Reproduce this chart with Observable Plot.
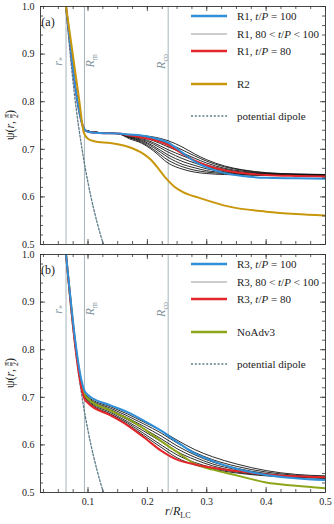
<!DOCTYPE html>
<html><head><meta charset="utf-8">
<script src="https://cdn.jsdelivr.net/npm/d3@7"></script>
<script src="https://cdn.jsdelivr.net/npm/@observablehq/plot@0.6"></script>
<style>
body{margin:0;background:#fff;}
#wrap{position:relative;width:334px;height:524px;overflow:hidden;font-family:"Liberation Serif",serif;color:#222;}
.abs{position:absolute;}
.leg{position:absolute;font-size:11px;white-space:nowrap;line-height:12px;}
.leg svg{position:absolute;left:-47px;top:0;}
.ylab{position:absolute;transform:translate(-50%,-50%) rotate(-90deg);font-size:12px;white-space:nowrap;}
.frac{display:inline-flex;flex-direction:column;vertical-align:middle;font-size:8px;line-height:8px;text-align:center;}
.frac span:first-child{border-bottom:0.6px solid #222;}
</style></head>
<body><div id="wrap"></div>
<script>
// ---------- data ----------
const rStar = 0.063, rM = 0.094, rCo = 0.235;
const yMajor = [0.5, 0.6, 0.7, 0.8, 0.9, 1.0];
const xMajor = [0.1, 0.2, 0.3, 0.4, 0.5];

const rDip = [0.063, 0.07, 0.08, 0.09, 0.1, 0.11, 0.12, 0.13];
const psiDip = [1.0, 0.90, 0.787, 0.70, 0.63, 0.573, 0.525, 0.485];

// panel (a)
const rA = [0.063, 0.094, 0.1, 0.12, 0.15, 0.17, 0.19, 0.21, 0.235, 0.26, 0.28, 0.3, 0.33, 0.36, 0.4, 0.45, 0.5];
const R1_100 = [1.0, 0.742, 0.737, 0.734, 0.733, 0.731, 0.729, 0.724, 0.714, 0.692, 0.674, 0.662, 0.650, 0.644, 0.640, 0.639, 0.638];
const R1_80  = [1.0, 0.742, 0.737, 0.734, 0.733, 0.729, 0.725, 0.720, 0.709, 0.690, 0.676, 0.666, 0.656, 0.650, 0.646, 0.644, 0.643];
const R1_mid = [
  [1.0, 0.743, 0.738, 0.735, 0.733, 0.731, 0.729, 0.726, 0.718, 0.704, 0.690, 0.678, 0.665, 0.657, 0.651, 0.648, 0.647],
  [1.0, 0.743, 0.738, 0.735, 0.733, 0.730, 0.727, 0.722, 0.712, 0.698, 0.686, 0.675, 0.663, 0.656, 0.650, 0.648, 0.647],
  [1.0, 0.743, 0.738, 0.735, 0.733, 0.729, 0.725, 0.718, 0.705, 0.692, 0.681, 0.671, 0.660, 0.654, 0.649, 0.647, 0.646],
  [1.0, 0.743, 0.738, 0.735, 0.733, 0.728, 0.723, 0.714, 0.699, 0.686, 0.676, 0.667, 0.658, 0.652, 0.648, 0.647, 0.646],
  [1.0, 0.743, 0.738, 0.735, 0.733, 0.727, 0.721, 0.711, 0.694, 0.680, 0.671, 0.663, 0.655, 0.651, 0.648, 0.646, 0.646],
  [1.0, 0.743, 0.738, 0.735, 0.733, 0.726, 0.719, 0.707, 0.688, 0.674, 0.666, 0.659, 0.653, 0.649, 0.647, 0.646, 0.646],
  [1.0, 0.743, 0.738, 0.735, 0.733, 0.725, 0.717, 0.704, 0.683, 0.668, 0.661, 0.655, 0.651, 0.648, 0.646, 0.645, 0.645],
  [1.0, 0.743, 0.738, 0.735, 0.733, 0.724, 0.715, 0.700, 0.677, 0.663, 0.656, 0.652, 0.649, 0.647, 0.646, 0.645, 0.645],
  [1.0, 0.743, 0.738, 0.735, 0.733, 0.722, 0.713, 0.697, 0.671, 0.658, 0.652, 0.649, 0.647, 0.646, 0.645, 0.645, 0.645]
];
const rR2 = [0.063, 0.085, 0.093, 0.1, 0.11, 0.138, 0.166, 0.194, 0.206, 0.215, 0.23, 0.245, 0.26, 0.29, 0.34, 0.4, 0.45, 0.5];
const R2 = [1.0, 0.805, 0.735, 0.722, 0.717, 0.713, 0.706, 0.690, 0.678, 0.665, 0.641, 0.622, 0.610, 0.597, 0.579, 0.569, 0.564, 0.561];

// panel (b)
const rB = [0.063, 0.094, 0.1, 0.138, 0.1665, 0.194, 0.223, 0.25, 0.28, 0.31, 0.35, 0.4, 0.45, 0.5];
const R3_100 = [1.0, 0.714, 0.705, 0.683, 0.669, 0.651, 0.630, 0.606, 0.582, 0.566, 0.550, 0.537, 0.530, 0.526];
const R3_80  = [1.0, 0.697, 0.688, 0.662, 0.641, 0.616, 0.588, 0.569, 0.559, 0.552, 0.545, 0.538, 0.534, 0.532];
const NoAdv3 = [1.0, 0.706, 0.697, 0.672, 0.655, 0.634, 0.608, 0.585, 0.560, 0.548, 0.536, 0.521, 0.514, 0.509];
const R3_mid = [
  [1.0, 0.710, 0.701, 0.680, 0.665, 0.648, 0.630, 0.610, 0.590, 0.575, 0.560, 0.546, 0.538, 0.535],
  [1.0, 0.708, 0.699, 0.677, 0.661, 0.644, 0.625, 0.604, 0.584, 0.569, 0.555, 0.543, 0.536, 0.533],
  [1.0, 0.706, 0.697, 0.674, 0.657, 0.639, 0.619, 0.598, 0.579, 0.564, 0.551, 0.540, 0.534, 0.532],
  [1.0, 0.704, 0.695, 0.671, 0.653, 0.634, 0.613, 0.592, 0.574, 0.560, 0.548, 0.538, 0.533, 0.531],
  [1.0, 0.702, 0.693, 0.668, 0.649, 0.629, 0.607, 0.586, 0.569, 0.556, 0.545, 0.537, 0.533, 0.531],
  [1.0, 0.700, 0.691, 0.665, 0.646, 0.624, 0.600, 0.579, 0.563, 0.552, 0.543, 0.536, 0.532, 0.530],
  [1.0, 0.698, 0.689, 0.663, 0.643, 0.620, 0.595, 0.573, 0.558, 0.549, 0.541, 0.535, 0.532, 0.530]
];

// ---------- styles ----------
const C = {blue:"#2f8fd8", red:"#e3262b", gold:"#c9970c", green:"#8da619", black:"#141414", dip:"#5d7c88", vline:"#a6b5bc", vtext:"#7f949c", gray:"#9a9a9a"};

const toRows = (r, v, id) => r.map((x, i) => ({r: x, psi: v[i], id}));

const W = 334, ML = 40, MR = 9, FH = 238;
const FW = W - ML - MR;

function ticksMarks() {
  const yMinor = d3.range(0.5, 1.0001, 0.02);
  const xMinor = d3.range(0.025, 0.5001, 0.025);
  const s = {stroke: "#333", strokeWidth: 0.8};
  return [
    Plot.tickY(yMinor, {y: d => d, insetRight: FW - 3, ...s}),
    Plot.tickY(yMinor, {y: d => d, insetLeft: FW - 3, ...s}),
    Plot.tickY(yMajor, {y: d => d, insetRight: FW - 5, ...s}),
    Plot.tickY(yMajor, {y: d => d, insetLeft: FW - 5, ...s}),
    Plot.tickX(xMinor, {x: d => d, insetTop: FH - 3, ...s}),
    Plot.tickX(xMinor, {x: d => d, insetBottom: FH - 3, ...s}),
    Plot.tickX(xMajor, {x: d => d, insetTop: FH - 5, ...s}),
    Plot.tickX(xMajor, {x: d => d, insetBottom: FH - 5, ...s})
  ];
}

function panel({blacks, colored, bottomAxis, mb}) {
  const blackRows = blacks.flatMap(b => b);
  const marks = [
    Plot.ruleX([rStar, rM, rCo], {x: d => d, stroke: C.vline, strokeWidth: 1}),
    Plot.line(toRows(rDip, psiDip, "dip"), {x: "r", y: "psi", curve: "monotone-x", stroke: C.dip, strokeWidth: 1.3, strokeDasharray: "2,1.8", clip: true}),
    Plot.line(blackRows, {x: "r", y: "psi", z: "id", curve: "monotone-x", stroke: C.black, strokeWidth: 0.9, clip: true}),
    ...colored.map(c => Plot.line(c.rows, {x: "r", y: "psi", curve: "monotone-x", stroke: c.color, strokeWidth: 2, clip: true})),
    ...ticksMarks(),
    Plot.frame({stroke: "#333", strokeWidth: 0.9}),
    Plot.axisY(yMajor, {tickSize: 0, tickPadding: 6, tickFormat: d3.format(".1f"), label: null, fontSize: 10})
  ];
  if (bottomAxis) marks.push(Plot.axisX(xMajor, {tickSize: 0, tickPadding: 5, tickFormat: d3.format(".1f"), label: null, fontSize: 10}));
  return Plot.plot({
    width: W, height: 6 + FH + mb, marginLeft: ML, marginRight: MR, marginTop: 6, marginBottom: mb,
    x: {domain: [0.02, 0.5], axis: null},
    y: {domain: [0.5, 1.0], axis: null},
    style: {fontFamily: "'Liberation Serif', serif", fontSize: "10px", background: "transparent", color: "#222", overflow: "visible"},
    marks
  });
}

function annotate(chart, letter) {
  const sx = chart.scale("x"), sy = chart.scale("y");
  const svg = d3.select(chart);
  const g = svg.append("g").attr("font-family", "'Liberation Serif', serif");
  g.append("text").attr("x", sx.apply(0.02) + 8).attr("y", sy.apply(1.0) + 20).attr("font-size", 12).attr("fill", "#222").text(`(${letter})`);
  const lab = [
    {r: rStar, main: "r", sub: "*", top: 57, off: -4},
    {r: rM, main: "R", sub: "m", top: 54, off: 10},
    {r: rCo, main: "R", sub: "co", top: 54, off: -3}
  ];
  for (const l of lab) {
    const x = sx.apply(l.r) + l.off;
    const y = sy.apply(1.0) + l.top - 6;
    const t = g.append("text").attr("x", 0).attr("y", 0)
      .attr("transform", `translate(${x},${y}) rotate(-90)`)
      .attr("font-size", 12).attr("fill", C.vtext).attr("text-anchor", "end");
    t.append("tspan").attr("font-style", "italic").text(l.main);
    t.append("tspan").attr("font-size", 8).attr("dy", 3).text(l.sub);
  }
}

const wrap = document.getElementById("wrap");

const chartA = panel({
  blacks: R1_mid.map((v, i) => toRows(rA, v, "a" + i)),
  colored: [
    {rows: toRows(rA, R1_80, "red"), color: C.red},
    {rows: toRows(rA, R1_100, "blue"), color: C.blue},
    {rows: toRows(rR2, R2, "gold"), color: C.gold}
  ],
  bottomAxis: false, mb: 6
});
chartA.style.position = "absolute"; chartA.style.left = "0px"; chartA.style.top = "0px";
wrap.appendChild(chartA);
annotate(chartA, "a");

const chartB = panel({
  blacks: R3_mid.map((v, i) => toRows(rB, v, "b" + i)),
  colored: [
    {rows: toRows(rB, NoAdv3, "green"), color: C.green},
    {rows: toRows(rB, R3_80, "red"), color: C.red},
    {rows: toRows(rB, R3_100, "blue"), color: C.blue}
  ],
  bottomAxis: true, mb: 32
});
chartB.style.position = "absolute"; chartB.style.left = "0px"; chartB.style.top = "248px";
wrap.appendChild(chartB);
annotate(chartB, "b");

// legends
function legend(top, run, fourth, fourthColor) {
  const items = [
    {y: 0, html: `${run}, <i>t</i>/<i>P</i> = 100`, color: C.blue, w: 2.6},
    {y: 17.5, html: `${run}, 80 &lt; <i>t</i>/<i>P</i> &lt; 100`, color: C.gray, w: 1},
    {y: 35, html: `${run}, <i>t</i>/<i>P</i> = 80`, color: C.red, w: 2.6},
    {y: 68, html: fourth, color: fourthColor, w: 2.6},
    {y: 100, html: "potential dipole", color: C.dip, w: 1.3, dash: "2,1.8"}
  ];
  for (const it of items) {
    const d = document.createElement("div");
    d.className = "leg";
    d.style.left = "237px";
    d.style.top = (top + it.y - 6) + "px";
    d.innerHTML = `<svg width="38" height="12"><line x1="1" x2="37" y1="6" y2="6" stroke="${it.color}" stroke-width="${it.w}" ${it.dash ? `stroke-dasharray="${it.dash}"` : ""}/></svg>` + it.html;
    wrap.appendChild(d);
  }
}
legend(16, "R1", "R2", C.gold);
legend(264, "R3", "NoAdv3", C.green);

// axis titles
function ylab(cy) {
  const d = document.createElement("div");
  d.className = "ylab";
  d.style.left = "11px"; d.style.top = cy + "px";
  d.innerHTML = `ψ(<i>r</i>, <span class="frac"><span>π</span><span>2</span></span>)`;
  wrap.appendChild(d);
}
ylab(125); ylab(373);
const xl = document.createElement("div");
xl.className = "abs";
xl.style.left = "165px"; xl.style.top = "504px"; xl.style.fontSize = "12px"; xl.style.whiteSpace = "nowrap";
xl.innerHTML = `<i>r</i>/<i>R</i><sub style="font-size:8px">LC</sub>`;
wrap.appendChild(xl);
</script>
</body></html>
